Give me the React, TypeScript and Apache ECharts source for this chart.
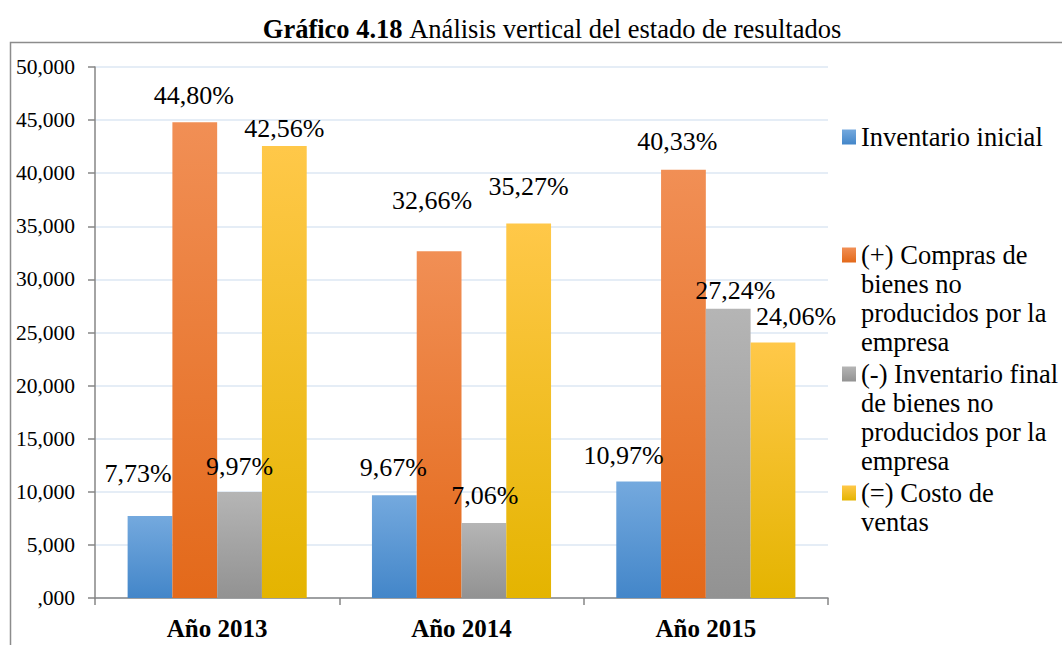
import React, { useEffect, useRef } from "react";
import * as echarts from "echarts";

const categories = ["Año 2013", "Año 2014", "Año 2015"];
const seriesNames = [
  "Inventario inicial",
  "(+) Compras de bienes no producidos por la empresa",
  "(-) Inventario final de bienes no producidos por la empresa",
  "(=) Costo de ventas",
];
const legendLines = [
  ["Inventario inicial"],
  ["(+) Compras de", "bienes no", "producidos por la", "empresa"],
  ["(-) Inventario final", "de bienes no", "producidos por la", "empresa"],
  ["(=) Costo de", "ventas"],
];
const inventarioInicial = [7.73, 9.67, 10.97];
const compras = [44.8, 32.66, 40.33];
const inventarioFinal = [9.97, 7.06, 27.24];
const costoVentas = [42.56, 35.27, 24.06];
const seriesValues = [inventarioInicial, compras, inventarioFinal, costoVentas];

// styling: label offsets per series / category
const labelOffsets = [
  [[-12, -24], [-1, -10], [-15, -8]],
  [[-1, -9], [-7, -33], [-6, -10]],
  [[0, -8], [1, -10], [7, 0]],
  [[0, 0], [0, -19], [23, -8]],
];
const gradients = [
  ["#74a9de", "#4386c9"],
  ["#f18f55", "#e3691a"],
  ["#b5b5b5", "#929292"],
  ["#ffc849", "#e4b400"],
];
const legendIconCenters = [137, 255, 374, 493];

const FONT = "Liberation Serif";

export default function App() {
  const ref = useRef<HTMLDivElement>(null);
  useEffect(() => {
    if (!ref.current) return;
    const chart = echarts.init(ref.current, undefined, { renderer: "svg" });
    const LH = 29;
    const ICON_W = 14;
    const ICON_H = 15;
    const option: any = {
      animation: false,
      backgroundColor: "#ffffff",
      title: {
        text: "{b|Gráfico 4.18} {r|Análisis vertical del estado de resultados}",
        left: 547,
        textAlign: "center",
        top: 10,
        textStyle: {
          fontFamily: FONT,
          fontWeight: "normal",
          fontSize: 26.5,
          rich: {
            b: { fontFamily: FONT, fontSize: 26.5, fontWeight: "bold", color: "#000" },
            r: { fontFamily: FONT, fontSize: 26.5, fontWeight: "normal", color: "#000" },
          },
        },
      },
      graphic: [
        {
          type: "rect",
          shape: { x: 10.5, y: 42.5, width: 1200, height: 800 },
          style: { fill: "none", stroke: "#8c8c8c", lineWidth: 1.5 },
          silent: true,
        },
      ],
      legend: seriesNames.map((name, i) => {
        const n = legendLines[i].length;
        const h = (n - 1) * LH + ICON_H;
        const icon =
          n === 1
            ? "rect"
            : `path://M0,0L${ICON_W},0L${ICON_W},${ICON_H}L0,${ICON_H}Z M0,${h}L${ICON_W},${h}`;
        return {
          data: [
            {
              name,
              itemStyle: {
                color: new echarts.graphic.LinearGradient(0, 0, 0, ICON_H / h, [
                  { offset: 0, color: gradients[i][0] },
                  { offset: 1, color: gradients[i][1] },
                ]),
              },
            },
          ],
          orient: "vertical",
          left: 842,
          top: legendIconCenters[i] - LH / 2,
          padding: 0,
          icon,
          itemWidth: ICON_W,
          itemHeight: h,
          formatter: () => legendLines[i].join("\n"),
          textStyle: {
            fontFamily: FONT,
            fontSize: 26.5,
            color: "#000",
            lineHeight: LH,
          },
          selectedMode: false,
        };
      }),
      grid: { left: 95, right: 234, top: 67, bottom: 47, containLabel: false },
      xAxis: {
        type: "category",
        data: categories,
        axisLine: { lineStyle: { color: "#868686", width: 1.5 } },
        axisTick: { show: true, length: 7, lineStyle: { color: "#868686", width: 1.5 } },
        axisLabel: {
          fontFamily: FONT,
          fontSize: 25,
          fontWeight: "bold",
          color: "#000",
          margin: 18,
        },
      },
      yAxis: {
        type: "value",
        min: 0,
        max: 50,
        interval: 5,
        axisLine: { show: true, lineStyle: { color: "#868686", width: 1.5 } },
        axisTick: { show: true, length: 7, lineStyle: { color: "#868686", width: 1.5 } },
        splitLine: { lineStyle: { color: "#dce7f3", width: 1.5 } },
        axisLabel: {
          fontFamily: FONT,
          fontSize: 21.5,
          color: "#000",
          margin: 20,
          formatter: (v: number) => (v === 0 ? "" : String(Math.floor(v))) + ",000",
        },
      },
      series: seriesNames.map((name, si) => ({
        name,
        type: "bar",
        barGap: "0%",
        barCategoryGap: "26.7%",
        itemStyle: {
          color: new echarts.graphic.LinearGradient(0, 0, 0, 1, [
            { offset: 0, color: gradients[si][0] },
            { offset: 1, color: gradients[si][1] },
          ]),
        },
        label: {
          show: true,
          position: "top",
          distance: 5,
          fontFamily: FONT,
          fontSize: 26,
          color: "#000",
          formatter: (p: any) => p.value.toFixed(2).replace(".", ",") + "%",
        },
        data: seriesValues[si].map((v, ci) => ({
          value: v,
          label: { offset: labelOffsets[si][ci] },
        })),
      })),
    };
    chart.setOption(option);
    return () => chart.dispose();
  }, []);
  return (
    <div
      ref={ref}
      style={{ position: "fixed", left: 0, top: 0, width: 1062, height: 645 }}
    />
  );
}
